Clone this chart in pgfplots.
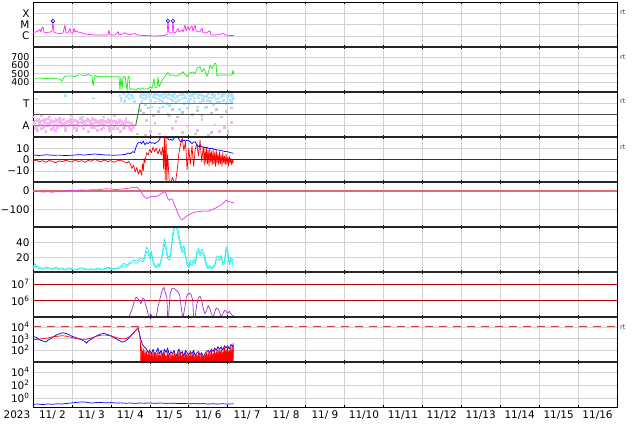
\documentclass[border=0pt]{standalone}
\usepackage{fontspec}
\setmainfont{DejaVu Sans}
\usepackage{pgfplots}
\pgfplotsset{compat=1.18}

\definecolor{mag}{HTML}{FF22FF}
\definecolor{lime}{HTML}{11EE11}
\definecolor{ltblue}{HTML}{AEE4FF}
\definecolor{ltpink}{HTML}{F6B4F0}
\definecolor{ltgray}{HTML}{C8C8C8}
\definecolor{cyanl}{HTML}{22F0F0}
\definecolor{purp}{HTML}{A030C8}
\definecolor{dkred}{HTML}{AA0000}
\definecolor{salmon}{HTML}{D87070}

\pgfplotsset{
  panel/.style={
    width=584bp, height=45bp, scale only axis,
    anchor=north west,
    xmin=0, xmax=360,
    xtick={0,24,...,360}, xticklabels={},
    xmajorgrids, ymajorgrids,
    grid style={draw=gray!35, line width=0.5bp},
    major tick length=2bp,
    xtick style={black, line width=0.5bp},
    ytick style={draw=none},
    axis line style={line width=0.6bp},
    tick label style={font=\fontsize{10.5}{12}\selectfont},
    /pgf/number format/assume math mode=true,
    clip mode=individual,
  },
  dat/.style={line width=0.7bp, line join=round},
}

\begin{document}
\begin{tikzpicture}
\useasboundingbox (-33bp,2bp) rectangle (601bp,-422bp);

% X-ray class
\begin{axis}[panel, at={(0bp,0bp)}, ymode=log, ymin=1e-7, ymax=1e-3,
  ytick={1e-6,1e-5,1e-4}, yticklabels={C,M,X}]
\addplot[dat, mag] coordinates {(0,1.94e-6)(1.8,2.15e-6)(3.1,2.64e-6)(4.3,3.6e-6)(4.9,2.15e-6)(5.5,4.9e-6)(6.2,6.0e-6)(6.8,2.15e-6)(8.0,1.94e-6)(10.5,2.15e-6)(11.7,2.39e-6)(12.3,1.92e-5)(12.9,2.15e-6)(14.2,1.75e-6)(16.6,1.58e-6)(18.5,1.75e-6)(19.7,9.0e-6)(20.3,1.75e-6)(21.6,1.75e-6)(22.8,4.6e-6)(23.4,1.75e-6)(24.7,1.75e-6)(25.3,4.6e-6)(25.9,2.15e-6)(26.5,2.8e-6)(27.7,2.15e-6)(29.6,1.87e-6)(32.1,1.43e-6)(35.1,1.29e-6)(38.2,1.17e-6)(41.3,1.17e-6)(44.4,1.17e-6)(46.2,1.17e-6)(46.8,3.2e-6)(47.5,1.17e-6)(50.5,1.17e-6)(52.4,2.29e-6)(53.0,1.17e-6)(54.9,1.43e-6)(56.7,1.87e-6)(57.9,1.43e-6)(59.8,1.29e-6)(62.9,1.58e-6)(64.1,1.17e-6)(69.0,1.05e-6)(75.2,9.5e-7)(81.4,1.05e-6)(82.6,1.43e-6)(83.2,2.05e-5)(83.8,1.75e-6)(85.7,1.75e-6)(86.3,2.05e-5)(86.9,1.75e-6)(88.1,2.15e-6)(89.4,4.4e-6)(90.0,2.15e-6)(91.8,3.2e-6)(92.5,2.15e-6)(93.7,9.0e-6)(94.3,2.64e-6)(95.5,6.4e-6)(96.2,3.2e-6)(96.8,4.6e-6)(98.0,7.4e-6)(98.6,2.64e-6)(99.9,9.0e-6)(100.5,2.8e-6)(101.7,2.29e-6)(102.9,2.29e-6)(104.2,4.6e-6)(104.8,1.87e-6)(106.6,1.75e-6)(109.1,2.8e-6)(109.7,1.17e-6)(112.2,1.17e-6)(115.3,1.29e-6)(117.1,1.65e-6)(118.3,1.17e-6)(121.4,1.05e-6)(123.9,1.05e-6)};
\addplot[only marks, mark=o, mark size=1.8bp, blue, line width=0.6bp] coordinates {(12.3,2.05e-5)(83.2,2.05e-5)(86.3,2.05e-5)};
\end{axis}

% solar wind speed
\begin{axis}[panel, at={(0bp,-45bp)}, ymin=280, ymax=820,
  ytick={400,500,600,700}, yticklabels={400,500,600,700},
  yticklabel style={font=\fontsize{9.5}{10}\selectfont, inner ysep=0pt}]
\addplot[dat, lime] coordinates {(0,444)(4.3,448)(7.4,440)(10.5,445)(13.6,440)(16.6,436)(17.9,412)(18.5,440)(19.7,470)(22.8,474)(25.9,466)(27.1,480)(29.0,486)(32.1,478)(33.9,490)(35.1,484)(36.4,470)(37.0,352)(37.6,420)(38.2,478)(39.4,470)(41.3,464)(47.5,464)(53.0,464)(53.6,304)(54.2,460)(54.9,310)(55.5,455)(56.7,470)(58.0,300)(58.6,460)(59.2,470)(59.8,310)(61.6,320)(63.5,300)(64.7,325)(66.0,310)(67.2,330)(69.0,315)(70.9,320)(72.1,340)(73.4,325)(74.6,440)(75.2,330)(76.4,330)(77.1,460)(77.7,340)(79.5,420)(81.4,470)(83.2,512)(84.4,480)(86.3,485)(88.1,470)(90.6,490)(92.5,524)(93.7,490)(94.9,464)(96.8,510)(98.6,520)(99.9,500)(101.1,564)(102.9,584)(104.2,520)(105.4,560)(107.3,470)(108.5,540)(109.1,604)(110.3,560)(111.6,610)(112.2,624)(112.8,620)(113.4,470)(114.0,484)(118.3,484)(122.7,484)(123.3,544)(123.9,490)};
\end{axis}

% A / T
\begin{axis}[panel, at={(0bp,-90bp)}, ymin=0, ymax=4,
  ytick={1,2,3}, yticklabels={A,,T}]
\addplot[only marks, mark=square*, mark size=0.9bp, ltpink] coordinates {(0,1.1)(1,1.4)(2,0.9)(3,1.6)(4,1.2)(5,0.8)(6,1.5)(7,1.3)(8,1.0)(9,1.7)(10,1.2)(11,0.7)(12,1.4)(13,1.1)(14,1.6)(15,0.9)(16,1.3)(17,1.5)(18,1.0)(19,1.2)(20,0.8)(21,1.4)(22,1.1)(23,1.6)(24,1.3)(25,0.9)(26,1.5)(27,1.2)(28,1.0)(29,1.7)(30,1.3)(31,0.8)(32,1.4)(33,1.1)(34,1.5)(35,1.2)(36,0.9)(37,1.6)(38,1.3)(39,1.0)(40,1.4)(41,1.2)(42,0.7)(43,1.5)(44,1.1)(45,1.3)(46,1.6)(47,0.9)(48,1.2)(49,1.4)(50,1.0)(51,1.3)(52,0.8)(53,1.5)(54,1.1)(55,1.2)(56,0.9)(57,1.4)(58,1.0)(59,1.3)(60,0.7)(61,1.1)(62,0.9)
(0.5,1.3)(1.5,0.8)(2.5,1.5)(3.5,1.0)(4.5,1.4)(5.5,1.1)(6.5,0.9)(7.5,1.6)(8.5,1.2)(9.5,1.0)(10.5,1.5)(11.5,1.3)(12.5,0.9)(13.5,1.4)(14.5,1.1)(15.5,1.5)(16.5,1.0)(17.5,1.2)(18.5,1.6)(19.5,0.9)(20.5,1.3)(21.5,1.0)(22.5,1.4)(23.5,1.2)(24.5,1.5)(25.5,1.1)(26.5,0.8)(27.5,1.4)(28.5,1.3)(29.5,1.0)(30.5,1.5)(31.5,1.2)(32.5,1.0)(33.5,1.6)(34.5,1.1)(35.5,1.4)(36.5,1.2)(37.5,0.9)(38.5,1.5)(39.5,1.3)(40.5,1.0)(41.5,1.5)(42.5,1.2)(43.5,0.9)(44.5,1.4)(45.5,1.0)(46.5,1.3)(47.5,1.5)(48.5,1.1)(49.5,0.8)(50.5,1.4)(51.5,1.1)(52.5,1.3)(53.5,1.0)(54.5,1.4)(55.5,0.8)(56.5,1.2)(57.5,1.0)(58.5,1.3)(59.5,0.9)(60.5,1.2)(61.5,1.0)
(0.2,1.8)(2.8,0.6)(5.2,1.9)(7.8,0.5)(10.2,1.8)(13.8,0.6)(16.2,1.7)(19.8,0.6)(23.2,1.9)(26.8,0.6)(30.2,1.8)(33.8,0.5)(36.2,1.7)(39.8,0.6)(43.2,1.8)(46.8,0.6)(50.2,1.9)(53.8,0.5)(57.2,1.7)(60.8,0.6)
(70,1.5)(72,0.5)(75,1.2)(78,0.3)(84,1.9)(86,0.8)(88,1.4)(92,0.4)(95,1.0)(101,0.6)(104,1.6)(108,0.2)(112,1.1)(115,0.5)(118,0.9)(120,0.3)(122,1.3)};
\addplot[only marks, mark=square*, mark size=0.9bp, ltgray] coordinates {(66,2.4)(68,2.1)(71,2.6)(74,1.9)(77,2.3)(80,2.7)(83,2.0)(86,2.5)(89,1.8)(92,2.2)(95,2.6)(98,2.0)(101,2.4)(104,1.9)(107,2.7)(110,2.1)(113,2.5)(116,1.8)(119,2.3)(122,2.6)(64,0.3)(69,0.2)(100,0.3)(110,0.4)(120,0.5)};
\addplot[only marks, mark=square*, mark size=0.9bp, ltblue] coordinates {(1.8,3.4)(20,3.7)(37,3.5)(53.5,3.7)(54,3.3)(54.5,3.5)(55.5,3.85)(56,3.1)(56.5,3.3)(57.5,3.6)(58.5,3.9)(59,3.5)(59.5,3.4)(60.5,3.75)(61.5,3.55)(62.5,3.2)(66,3.6)(66.5,3.9)(67,3.2)(68,3.8)(68.5,3.4)(69,2.9)(70,3.5)(71,3.9)(71.5,3.6)(72,3.3)(73,2.7)(74,3.6)(74.5,3.9)(75,3.1)(76,3.8)(77,3.4)(77.5,3.7)(78,2.6)(79,3.7)(80,3.2)(80.5,3.5)(81,3.9)(82,3.0)(83,3.5)(83.5,3.8)(84,2.8)(85,3.7)(86,3.3)(86.5,3.6)(87,3.9)(88,3.1)(89,3.6)(89.5,3.3)(90,2.5)(91,3.4)(92,3.8)(92.5,3.5)(93,3.0)(94,3.5)(95,3.85)(95.5,3.2)(96,2.9)(97,3.4)(98,3.7)(98.5,3.9)(99,3.2)(100,3.9)(101,2.7)(101.5,3.6)(102,3.5)(103,3.1)(104,3.75)(104.5,3.4)(105,3.3)(106,2.6)(107,3.6)(107.5,3.3)(108,3.9)(109,3.2)(110,3.5)(110.5,3.8)(111,2.9)(112,3.7)(113,3.4)(113.5,3.1)(114,3.85)(115,3.1)(116,3.6)(116.5,3.9)(117,3.3)(118,3.9)(119,3.0)(119.5,3.6)(120,3.5)(121,3.75)(121.5,3.3)(122,3.2)(123,3.6)(123.5,3.4)
(67.5,3.5)(69.5,3.7)(72.5,3.9)(75.5,3.5)(78.5,3.3)(81.5,3.6)(84.5,3.4)(87.5,3.5)(90.5,3.8)(93.5,3.6)(96.5,3.7)(99.5,3.5)(102.5,3.8)(105.5,3.6)(108.5,3.5)(111.5,3.6)(114.5,3.5)(117.5,3.7)(120.5,3.9)(122.5,3.8)};
\addplot[gray!60!black, line width=0.7bp] coordinates {(0,2)(360,2)};
\addplot[color={rgb,255:red,232;green,96;blue,96}, line width=1bp] coordinates {(0,1)(63.3,1)};
\addplot[color={rgb,255:red,64;green,144;blue,64}, line width=1bp] coordinates {(63.3,1)(66,3)};
\addplot[color={rgb,255:red,96;green,112;blue,240}, line width=1bp] coordinates {(66,3)(123.3,3)};
\end{axis}

% Bt / Bz
\begin{axis}[panel, at={(0bp,-135bp)}, ymin=-20, ymax=20,
  ytick={-10,0,10}, yticklabels={−10,0,10}]
\addplot[dat, red] coordinates {(0,-1.5)(2,-0.5)(4,-2)(6,-1)(8,-2.5)(10,-0.8)(12,-1.8)(14,-2.8)(16,-1.2)(18,-2)(20,-0.5)(22,-1.5)(24,-2.2)(26,-0.3)(28,-1.8)(30,-1)(32,-2.5)(34,-0.8)(36,-1.6)(38,0.5)(40,-1.2)(42,-2)(44,-0.6)(46,-1.8)(48,-1)(50,-2.4)(52,-1.2)(54,-0.5)(56,-2)(58,-3)(59,-1.5)(60,-4)(61,-8)(62,-5)(63,-11)(64,-7)(65,-13)(66,-9)(67,-14)(67.5,-4)(68,-10)(68.5,1)(69,-3)(70,6)(71,4)(72,9)(73,6)(74,11)(75,7)(76,10)(77,5)(78,9)(79,4)(80,11)(80.5,-8)(81,20)(81.5,-18)(82,20)(82.5,-20)(83,5)(84,-20)(85,-20)(86,-16)(87,-20)(88,-19)(89,-8)(90,6)(91,14)(92,19)(93,8)(94,16)(95,-9)(96,10)(97,-4)(98,12)(99,-6)(100,9)(101,14)(102,3)(103,17)(104,-2)(105,12)(105.5,-5)(106,9)(106.5,-3)(107,11)(107.5,-4)(108,8)(108.5,-6)(109,10)(109.5,-2)(110,7)(110.5,-5)(111,9)(111.5,-4)(112,6)(112.5,-6)(113,8)(113.5,-3)(114,5)(114.5,-5)(115,7)(115.5,-4)(116,4)(116.5,-6)(117,6)(117.5,-3)(118,3)(118.5,-5)(119,5)(119.5,-4)(120,2)(120.5,-6)(121,3)(121.5,-3)(122,1)(122.5,-5)(123,0)(123.5,-3)};
\addplot[dat, blue] coordinates {(0,4.0)(4,3.6)(8,4.2)(12,3.8)(16,3.9)(20,3.5)(24,3.8)(28,4.3)(32,4.0)(36,4.6)(38,4.9)(42,4.3)(46,4.0)(50,3.8)(54,4.1)(57,4.5)(58.5,5.8)(60,5.2)(61.5,7.0)(62.5,6.2)(63.5,11)(64.5,14.4)(66,15.6)(67,14)(68,16.5)(69,13)(70,15)(71,14.2)(72,15.8)(73,14.5)(74,15)(75,14)(76,15.2)(77,15.8)(78,18)(79,20.5)(80,20.5)(81,19.5)(82,20.5)(83,18.8)(84,17.3)(85,18)(86,17)(87,19)(88,20.5)(89,20.2)(90,18)(91,15.8)(92,16.5)(93,17.3)(94,16.5)(95,17.3)(96,16.8)(97,15.5)(98,14)(99,15.5)(100,15.8)(101,13)(102,11.4)(103,12)(104,11.4)(105,11)(106,10.5)(107,11)(108,10)(109,9.8)(110,10)(112,9)(114,8.4)(116,8)(118,7.2)(120,6.9)(122,6.0)(123.5,5.5)};
\addplot[dkred, line width=0.8bp] coordinates {(0,0)(360,0)};
\end{axis}

% Dst
\begin{axis}[panel, at={(0bp,-180bp)}, ymin=-196, ymax=50,
  ytick={-100,0}, yticklabels={−100,0}]
\addplot[salmon, line width=2bp] coordinates {(0,0)(360,0)};
\addplot[dat, color={rgb,255:red,238;green,51;blue,238}] coordinates {(0,0)(3,-2)(6,-5)(9,-3)(12,-6)(15,-2)(18,-4)(21,2)(24,6)(27,4)(30,7)(33,5)(36,8)(39,7)(42,10)(45,13)(48,12)(51,9)(54,11)(57,14)(60,18)(62,20)(64,22)(65,15)(66,5)(67,-10)(68,-25)(70,-40)(72,-32)(74,-28)(76,-30)(78,-20)(80,-8)(81,-3)(82,-12)(83,-40)(84,-50)(85,-42)(86,-45)(87,-70)(88,-90)(89,-115)(90,-135)(91,-150)(92,-155)(93,-150)(94,-140)(96,-130)(98,-120)(100,-115)(102,-112)(104,-110)(106,-108)(108,-110)(110,-102)(112,-95)(114,-85)(116,-75)(118,-60)(119,-50)(120,-55)(122,-60)(124,-65)};
\end{axis}

% density
\begin{axis}[panel, at={(0bp,-225bp)}, ymin=0.5, ymax=60.5,
  ytick={20,40}, yticklabels={20,40}]
\addplot[dat, cyanl] coordinates {(0,4)(1,8)(2,6)(4,5)(6,4)(8,5)(10,5)(12,4)(14,5)(16,4)(18,4)(20,3)(22,5)(24,4)(26,3)(28,4)(30,5)(32,4)(34,3)(36,4)(38,3)(40,5)(42,3)(44,4)(46,6)(48,5)(50,4)(52,5)(54,6)(56,9)(58,8)(60,12)(62,13)(64,12)(66,16)(68,14)(69,20)(70,28)(71,25)(72,18)(73,24)(74,13)(75,8)(76,6)(77,9)(78,7)(79,15)(80,26)(81,38)(82,30)(83,18)(84,16)(85,24)(86,44)(87,58)(88,62)(89,55)(90,44)(91,32)(92,26)(93,30)(94,20)(95,10)(96,6)(97,12)(98,9)(99,14)(100,11)(101,24)(102,28)(103,22)(104,27)(105,24)(106,16)(107,8)(108,5)(109,7)(110,5)(111,6)(112,8)(113,16)(114,18)(115,16)(116,20)(117,10)(118,12)(119,30)(120,26)(121,10)(122,17)(123,13)(123.5,6)};
\addplot[dat, cyanl] coordinates {(0,6)(1,12)(2,8)(4,7)(6,5)(8,7)(10,6)(12,5)(14,7)(16,5)(18,6)(20,4)(22,6)(24,5)(26,4)(28,5)(30,6)(32,5)(34,4)(36,5)(38,4)(40,6)(42,4)(44,5)(46,7)(48,6)(50,5)(52,6)(54,8)(56,12)(58,10)(60,14)(62,16)(64,15)(66,19)(68,17)(69,24)(70,34)(71,30)(72,22)(73,28)(74,16)(75,10)(76,8)(77,12)(78,9)(79,18)(80,30)(81,45)(82,36)(83,22)(84,20)(85,28)(86,50)(87,62)(88,62)(89,62)(90,50)(91,38)(92,30)(93,36)(94,24)(95,14)(96,8)(97,16)(98,12)(99,18)(100,14)(101,28)(102,32)(103,26)(104,31)(105,28)(106,20)(107,10)(108,7)(109,9)(110,6)(111,8)(112,10)(113,20)(114,22)(115,19)(116,23)(117,12)(118,15)(119,34)(120,30)(121,12)(122,20)(123,16)(123.5,18)};
\end{axis}

% particle flux
\begin{axis}[panel, at={(0bp,-270bp)}, ymode=log, ymin=1e5, ymax=5.4e7,
  ytick={1e6,1e7}, yticklabels={10\textsuperscript{6},10\textsuperscript{7}}]
\addplot[dkred!80!red, line width=0.8bp] coordinates {(0,1e6)(360,1e6)};
\addplot[dkred!80!red, line width=0.8bp] coordinates {(0,1e7)(360,1e7)};
\addplot[dat, purp] coordinates {(58.6,7.94e4)(60,1.58e5)(61.5,3.98e5)(62.5,1e6)(63.5,1.58e6)(64.5,1.41e6)(65.5,1e6)(66.5,6.31e5)(67.5,1.41e6)(68.5,1.26e6)(69.5,5.01e5)(70.5,2.51e5)(71.5,7.94e4)(72.5,1.58e5)(73.5,1e5)(74.5,7.94e4)(76,1e5)(77,3.98e5)(78,1e6)(79,2.51e6)(80,5.01e6)(80.8,6.31e6)(81.5,3.16e6)(82.5,1.58e6)(83,1e5)(83.5,7.94e4)(84.5,2.51e6)(85.5,5.01e6)(86.5,5.62e6)(87.5,5.01e6)(88.5,3.98e6)(89.5,3.16e6)(90.5,2e6)(91.5,3.16e5)(92.3,7.94e4)(93.5,3.16e5)(94.5,1.58e6)(95.5,2.51e6)(96.5,2.82e6)(97.5,2.24e6)(98.5,1e6)(99,1e5)(99.8,7.94e4)(101,6.31e5)(102,1.58e6)(103,1.78e6)(104,1e6)(105,3.16e5)(106,1.58e5)(107,2.51e5)(108,5.01e5)(109,3.16e5)(110,1.58e5)(111,8.91e4)(112,2e5)(113,3.55e5)(114,3.16e5)(115,2e5)(116,1e5)(117,1.58e5)(118,2.51e5)(119,2.24e5)(120,1.58e5)(121,2.24e5)(122,1.58e5)(123,1.26e5)(124,1.12e5)};
\end{axis}

% electron flux
\begin{axis}[panel, at={(0bp,-315bp)}, ymode=log, ymin=10, ymax=7.08e4,
  ytick={1e2,1e3,1e4}, yticklabels={10\textsuperscript{2},10\textsuperscript{3},10\textsuperscript{4}}]
\addplot[color={rgb,255:red,208;green,64;blue,64}, line width=1bp, dash pattern=on 8bp off 6bp] coordinates {(0,1e4)(360,1e4)};
\addplot[dat, blue] coordinates {(0,1585)(2,1259)(4,794)(6,631)(8,501)(9,708)(11,1000)(13,1585)(15,2239)(17,2818)(18.5,3162)(20,2818)(22,2239)(24,1585)(26,1259)(28,1000)(30,794)(32,562)(33,398)(34,631)(36,891)(38,1413)(40,1995)(42,2512)(43.5,2818)(45,2512)(47,1995)(49,1413)(51,1000)(53,708)(55,501)(56.5,562)(58,794)(60,1585)(62,3162)(64,6310)(64.7,8318)(65.5,3162)(66.5,794)(67.5,316)(68.5,200)(70,126)(71,63)(72,100)(73,50)(74,126)(75,40)(76,79)(77,158)(78,50)(79,100)(80,32)(81,126)(82,63)(83,158)(84,40)(85,79)(86,50)(87,100)(88,25)(89,63)(90,126)(91,50)(92,79)(93,32)(94,100)(95,63)(96,40)(97,79)(98,50)(99,100)(100,32)(101,63)(102,79)(103,40)(104,63)(105,25)(106,50)(107,79)(108,100)(109,63)(110,126)(111,79)(112,158)(113,100)(114,200)(115,126)(116,200)(117,100)(118,251)(119,158)(120,251)(121,126)(122,316)(123,200)(123.5,398)};
\addplot[dat, red] coordinates {(0,891)(3,794)(6,1000)(9,1122)(12,1413)(15,1585)(18,1778)(21,1585)(24,1259)(27,1000)(30,891)(33,891)(36,1122)(39,1585)(42,1995)(45,1995)(48,1778)(51,1259)(54,1000)(57,1000)(60,1585)(62,3162)(64,6310)(64.7,8913)(65.5,3548)(66.2,500)(66.5,8)};
\addplot[red, fill=red, line width=0.4bp] coordinates {(66.5,8)(67,200)(67.5,40)(68,126)(68.5,25)(69,100)(69.5,32)(70,79)(70.5,20)(71,63)(71.5,25)(72,100)(72.5,16)(73,50)(73.5,25)(74,79)(74.5,20)(75,63)(75.5,32)(76,50)(76.5,16)(77,100)(77.5,25)(78,40)(78.5,20)(79,79)(79.5,16)(80,50)(80.5,25)(81,63)(81.5,20)(82,40)(82.5,16)(83,79)(83.5,25)(84,50)(84.5,13)(85,63)(85.5,20)(86,40)(86.5,16)(87,79)(87.5,25)(88,32)(88.5,13)(89,63)(89.5,20)(90,100)(90.5,25)(91,50)(91.5,16)(92,63)(92.5,20)(93,40)(93.5,13)(94,79)(94.5,25)(95,50)(95.5,16)(96,40)(96.5,20)(97,63)(97.5,16)(98,50)(98.5,25)(99,63)(99.5,13)(100,40)(100.5,20)(101,50)(101.5,16)(102,63)(102.5,25)(103,40)(103.5,13)(104,50)(104.5,20)(105,32)(105.5,16)(106,50)(106.5,25)(107,63)(107.5,16)(108,79)(108.5,20)(109,63)(109.5,25)(110,100)(110.5,20)(111,63)(111.5,32)(112,126)(112.5,25)(113,79)(113.5,40)(114,158)(114.5,32)(115,100)(115.5,40)(116,158)(116.5,32)(117,79)(117.5,50)(118,200)(118.5,40)(119,126)(119.5,50)(120,200)(120.5,40)(121,100)(121.5,63)(122,251)(122.5,50)(123,158)(123.5,251)(123.6,8)};
\end{axis}

% bottom panel
\begin{axis}[panel, at={(0bp,-360bp)}, ymode=log, ymin=0.0417, ymax=3.47e5,
  ytick={1,1e2,1e4}, yticklabels={10\textsuperscript{0},10\textsuperscript{2},10\textsuperscript{4}},
  extra x ticks={12,36,...,348},
  extra x tick labels={11/ 2,11/ 3,11/ 4,11/ 5,11/ 6,11/ 7,11/ 8,11/ 9,11/10,11/11,11/12,11/13,11/14,11/15,11/16},
  extra x tick style={grid=none, major tick length=0pt}]
\addplot[dat, blue] coordinates {(0,0.11)(3,0.12)(6,0.10)(9,0.12)(12,0.11)(15,0.13)(18,0.12)(21,0.15)(24,0.18)(27,0.22)(30,0.25)(32,0.24)(34,0.20)(36,0.17)(38,0.19)(40,0.22)(42,0.2)(45,0.18)(48,0.2)(51,0.17)(54,0.18)(57,0.16)(60,0.17)(63,0.15)(66,0.17)(69,0.16)(72,0.18)(75,0.15)(78,0.17)(81,0.16)(84,0.15)(87,0.16)(90,0.14)(93,0.15)(96,0.13)(99,0.14)(102,0.13)(105,0.14)(108,0.12)(111,0.13)(114,0.12)(117,0.13)(120,0.12)(123.5,0.13)};
\node[anchor=north, inner sep=0.333em, font=\fontsize{10.5}{12}\selectfont, xshift=-16bp] at (rel axis cs:0,0) {2023};
\end{axis}

\foreach \y in {45,90,...,360} \draw[line width=2bp, black!85] (0bp,-\y bp) -- (584bp,-\y bp);
\foreach \y in {10,55,99,145,325} \node[anchor=west, inner sep=0pt, font=\fontsize{6.5}{7}\selectfont, text=black!80] at (587bp,-\y bp) {rt};
\end{tikzpicture}
\end{document}
